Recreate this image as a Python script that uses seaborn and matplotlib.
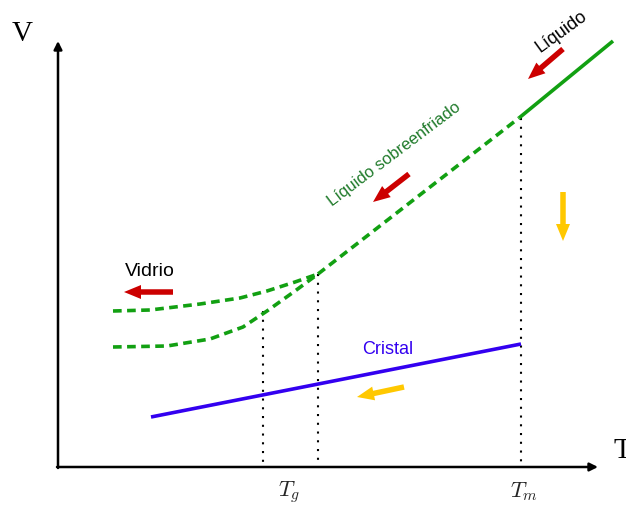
import matplotlib
matplotlib.use("Agg")
import matplotlib.pyplot as plt
import seaborn as sns
import pandas as pd

sns.set_theme(style="white")
plt.rcParams['font.family'] = ['Liberation Sans', 'DejaVu Sans']
plt.rcParams['mathtext.fontset'] = 'cm'

# ---- data (conceptual T / V coordinates) ----
T_liquid = [519, 613]
V_liquid = [119, 42]

T_super = [318, 519]
V_super = [275, 119]

T_glass_fast = [113, 150, 200, 240, 267, 295, 318]
V_glass_fast = [312, 311, 305, 299, 292, 283, 275]

T_glass_slow = [113, 167, 210, 243, 267, 295, 318]
V_glass_slow = [348, 347, 340, 328, 312, 292, 275]

T_crystal = [151, 521]
V_crystal = [418, 345]

T_marks = [263, 318, 521]
V_marks = [312, 275, 119]
T_tick_pos = [289, 524]
T_tick_labels = [r'$T_g$', r'$T_m$']

GREEN = '#12a012'
GREEN_TXT = '#1f7a2a'
RED = '#cc0000'
YELLOW = '#ffc800'
BLUE = '#3300f0'

fig = plt.figure(figsize=(6.26, 5.06), dpi=100)
ax = fig.add_axes([0, 0, 1, 1])
ax.set_xlim(0, 626)
ax.set_ylim(506, 0)
ax.axis('off')

X0, Y0 = 58, 468
dash = (0, (2.4, 1.5))
LW = 2.6

def line(T, V, **kw):
    df = pd.DataFrame({'T': T, 'V': V})
    sns.lineplot(data=df, x='T', y='V', ax=ax, sort=False, estimator=None, **kw)

# dotted verticals
for t, v in zip(T_marks, V_marks):
    line([t, t], [v, Y0], color='black', linestyle=(0, (1, 3.2)), linewidth=1.5)

line(T_liquid, V_liquid, color=GREEN, linewidth=LW, solid_capstyle='butt')
line(T_super, V_super, color=GREEN, linewidth=LW, linestyle=dash)
line(T_glass_fast, V_glass_fast, color=GREEN, linewidth=LW, linestyle=dash)
line(T_glass_slow, V_glass_slow, color=GREEN, linewidth=LW, linestyle=dash)
line(T_crystal, V_crystal, color=BLUE, linewidth=LW, solid_capstyle='butt')

# axes with arrows
ax.annotate('', xy=(X0, 42), xytext=(X0, Y0 + 1),
            arrowprops=dict(arrowstyle='-|>', color='black', lw=1.8, mutation_scale=12, shrinkA=0, shrinkB=0))
ax.annotate('', xy=(598, Y0), xytext=(X0 - 1, Y0),
            arrowprops=dict(arrowstyle='-|>', color='black', lw=1.8, mutation_scale=12, shrinkA=0, shrinkB=0))

ax.text(22, 34, 'V', fontsize=21, family='Liberation Serif', ha='center', va='center', color='black')
ax.text(622, 451, 'T', fontsize=21, family='Liberation Serif', ha='center', va='center', color='black')
for x, lab in zip(T_tick_pos, T_tick_labels):
    ax.text(x, 492, lab, fontsize=16, ha='center', va='center')

# fat arrows
def fat(x0, y0, x1, y1, c):
    ax.arrow(x0, y0, x1 - x0, y1 - y0, width=5.5, head_width=14, head_length=17,
             length_includes_head=True, color=c, lw=0)

fat(563, 50, 528, 80, RED)
fat(409, 175, 373, 203, RED)
fat(173, 293, 124, 293, RED)
fat(563, 193, 563, 242, YELLOW)
fat(404, 388, 357, 398, YELLOW)

# labels
ax.text(561, 32, 'Líquido', fontsize=13, rotation=36, ha='center', va='center', color='black',
        rotation_mode='anchor')
ax.text(394, 154, 'Líquido sobreenfriado', fontsize=12, rotation=37, ha='center', va='center',
        color=GREEN_TXT, rotation_mode='anchor')
ax.text(150, 272, 'Vidrio', fontsize=14, ha='center', va='center', color='black')
ax.text(388, 350, 'Cristal', fontsize=13, ha='center', va='center', color=BLUE)

fig.savefig('out.png', dpi=100)
